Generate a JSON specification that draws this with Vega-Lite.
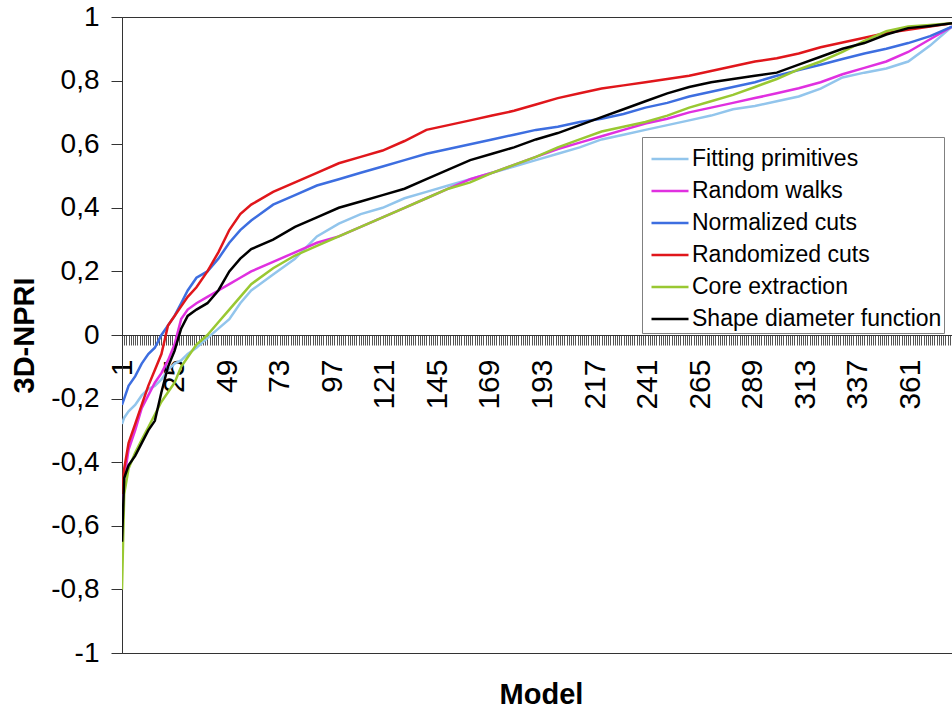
{
  "$schema": "https://vega.github.io/schema/vega-lite/v6.json",
  "width": 830,
  "height": 636,
  "autosize": "none",
  "padding": {"left": 122, "top": 17, "right": 0, "bottom": 60},
  "background": "white",
  "config": {
    "view": {"stroke": "#333333", "strokeWidth": 1},
    "font": "Liberation Sans"
  },
  "data": {
    "values": [
      {"m":1,"FP":-0.28,"RW":-0.58,"NC":-0.22,"RC":-0.5,"CE":-0.8,"SDF":-0.65},
      {"m":2,"FP":-0.26,"RW":-0.45,"NC":-0.2,"RC":-0.42,"CE":-0.5,"SDF":-0.45},
      {"m":4,"FP":-0.24,"RW":-0.36,"NC":-0.16,"RC":-0.34,"CE":-0.42,"SDF":-0.41},
      {"m":7,"FP":-0.22,"RW":-0.3,"NC":-0.13,"RC":-0.28,"CE":-0.37,"SDF":-0.38},
      {"m":10,"FP":-0.19,"RW":-0.23,"NC":-0.09,"RC":-0.22,"CE":-0.33,"SDF":-0.34},
      {"m":13,"FP":-0.17,"RW":-0.19,"NC":-0.06,"RC":-0.16,"CE":-0.29,"SDF":-0.3},
      {"m":16,"FP":-0.16,"RW":-0.15,"NC":-0.04,"RC":-0.11,"CE":-0.25,"SDF":-0.27},
      {"m":19,"FP":-0.14,"RW":-0.12,"NC":0.0,"RC":-0.06,"CE":-0.21,"SDF":-0.18},
      {"m":22,"FP":-0.11,"RW":-0.08,"NC":0.03,"RC":0.03,"CE":-0.18,"SDF":-0.1},
      {"m":25,"FP":-0.09,"RW":-0.03,"NC":0.06,"RC":0.06,"CE":-0.15,"SDF":-0.05},
      {"m":28,"FP":-0.08,"RW":0.05,"NC":0.1,"RC":0.09,"CE":-0.1,"SDF":0.02},
      {"m":31,"FP":-0.06,"RW":0.08,"NC":0.14,"RC":0.12,"CE":-0.07,"SDF":0.06},
      {"m":35,"FP":-0.04,"RW":0.1,"NC":0.18,"RC":0.15,"CE":-0.03,"SDF":0.08},
      {"m":40,"FP":-0.01,"RW":0.12,"NC":0.2,"RC":0.2,"CE":0.0,"SDF":0.1},
      {"m":45,"FP":0.02,"RW":0.14,"NC":0.24,"RC":0.26,"CE":0.04,"SDF":0.14},
      {"m":50,"FP":0.05,"RW":0.16,"NC":0.29,"RC":0.33,"CE":0.08,"SDF":0.2},
      {"m":55,"FP":0.1,"RW":0.18,"NC":0.33,"RC":0.38,"CE":0.12,"SDF":0.24},
      {"m":60,"FP":0.14,"RW":0.2,"NC":0.36,"RC":0.41,"CE":0.16,"SDF":0.27},
      {"m":70,"FP":0.19,"RW":0.23,"NC":0.41,"RC":0.45,"CE":0.21,"SDF":0.3},
      {"m":80,"FP":0.24,"RW":0.26,"NC":0.44,"RC":0.48,"CE":0.25,"SDF":0.34},
      {"m":90,"FP":0.31,"RW":0.29,"NC":0.47,"RC":0.51,"CE":0.28,"SDF":0.37},
      {"m":100,"FP":0.35,"RW":0.31,"NC":0.49,"RC":0.54,"CE":0.31,"SDF":0.4},
      {"m":110,"FP":0.38,"RW":0.34,"NC":0.51,"RC":0.56,"CE":0.34,"SDF":0.42},
      {"m":120,"FP":0.4,"RW":0.37,"NC":0.53,"RC":0.58,"CE":0.37,"SDF":0.44},
      {"m":130,"FP":0.43,"RW":0.4,"NC":0.55,"RC":0.61,"CE":0.4,"SDF":0.46},
      {"m":140,"FP":0.45,"RW":0.43,"NC":0.57,"RC":0.645,"CE":0.43,"SDF":0.49},
      {"m":150,"FP":0.47,"RW":0.46,"NC":0.585,"RC":0.66,"CE":0.46,"SDF":0.52},
      {"m":160,"FP":0.49,"RW":0.49,"NC":0.6,"RC":0.675,"CE":0.48,"SDF":0.55},
      {"m":170,"FP":0.51,"RW":0.51,"NC":0.615,"RC":0.69,"CE":0.51,"SDF":0.57},
      {"m":180,"FP":0.53,"RW":0.535,"NC":0.63,"RC":0.705,"CE":0.535,"SDF":0.59},
      {"m":190,"FP":0.55,"RW":0.56,"NC":0.645,"RC":0.725,"CE":0.56,"SDF":0.615},
      {"m":200,"FP":0.57,"RW":0.585,"NC":0.655,"RC":0.745,"CE":0.59,"SDF":0.635},
      {"m":210,"FP":0.59,"RW":0.605,"NC":0.67,"RC":0.76,"CE":0.615,"SDF":0.66},
      {"m":220,"FP":0.615,"RW":0.625,"NC":0.68,"RC":0.775,"CE":0.64,"SDF":0.685},
      {"m":230,"FP":0.63,"RW":0.645,"NC":0.695,"RC":0.785,"CE":0.655,"SDF":0.71},
      {"m":240,"FP":0.645,"RW":0.665,"NC":0.715,"RC":0.795,"CE":0.67,"SDF":0.735},
      {"m":250,"FP":0.66,"RW":0.68,"NC":0.73,"RC":0.805,"CE":0.69,"SDF":0.76},
      {"m":260,"FP":0.675,"RW":0.7,"NC":0.75,"RC":0.815,"CE":0.715,"SDF":0.78},
      {"m":270,"FP":0.69,"RW":0.715,"NC":0.765,"RC":0.83,"CE":0.735,"SDF":0.795},
      {"m":280,"FP":0.71,"RW":0.73,"NC":0.78,"RC":0.845,"CE":0.755,"SDF":0.805},
      {"m":290,"FP":0.72,"RW":0.745,"NC":0.795,"RC":0.86,"CE":0.78,"SDF":0.815},
      {"m":300,"FP":0.735,"RW":0.76,"NC":0.815,"RC":0.87,"CE":0.805,"SDF":0.825},
      {"m":310,"FP":0.75,"RW":0.776,"NC":0.833,"RC":0.885,"CE":0.835,"SDF":0.85},
      {"m":320,"FP":0.775,"RW":0.795,"NC":0.85,"RC":0.905,"CE":0.86,"SDF":0.875},
      {"m":330,"FP":0.81,"RW":0.82,"NC":0.868,"RC":0.92,"CE":0.89,"SDF":0.9},
      {"m":340,"FP":0.825,"RW":0.84,"NC":0.885,"RC":0.935,"CE":0.925,"SDF":0.918},
      {"m":350,"FP":0.838,"RW":0.86,"NC":0.9,"RC":0.95,"CE":0.955,"SDF":0.945},
      {"m":360,"FP":0.86,"RW":0.89,"NC":0.918,"RC":0.96,"CE":0.97,"SDF":0.965},
      {"m":370,"FP":0.91,"RW":0.93,"NC":0.94,"RC":0.97,"CE":0.975,"SDF":0.972},
      {"m":380,"FP":0.97,"RW":0.97,"NC":0.97,"RC":0.98,"CE":0.98,"SDF":0.98}
    ]
  },
  "transform": [
    {"fold": ["FP", "RW", "NC", "RC", "CE", "SDF"], "as": ["method", "value"]}
  ],
  "mark": {"type": "line", "strokeWidth": 2.5, "clip": true},
  "encoding": {
    "x": {
      "field": "m",
      "type": "quantitative",
      "scale": {"domain": [1, 380], "nice": false, "zero": false},
      "axis": {
        "title": "Model",
        "titleFont": "Liberation Sans",
        "titleFontSize": 29,
        "titleFontWeight": "bold",
        "titleColor": "#000000",
        "titleX": 419,
        "titleY": 368,
        "titleBaseline": "alphabetic",
        "titleAnchor": null,
        "offset": -318,
        "tickCount": 380,
        "labelExpr": "(datum.value - 1) % 24 === 0 ? datum.label : ''",
        "labelOverlap": false,
        "labelAngle": -90,
        "labelAlign": "right",
        "labelBaseline": "middle",
        "labelPadding": 14,
        "labelFont": "Liberation Sans",
        "labelFontSize": 30,
        "labelColor": "#000000",
        "labelFlush": false,
        "labelBound": false,
        "tickSize": 10,
        "tickColor": "#555555",
        "tickWidth": 1,
        "domainColor": "#333333",
        "grid": false
      }
    },
    "y": {
      "field": "value",
      "type": "quantitative",
      "scale": {"domain": [-1, 1], "nice": false, "zero": false},
      "axis": {
        "title": "3D-NPRI",
        "titleFont": "Liberation Sans",
        "titleFontSize": 29,
        "titleFontWeight": "bold",
        "titleColor": "#000000",
        "titleAngle": -90,
        "titleX": -98,
        "titleY": 318,
        "titleAlign": "center",
        "titleBaseline": "middle",
        "values": [-1, -0.8, -0.6, -0.4, -0.2, 0, 0.2, 0.4, 0.6, 0.8, 1],
        "labelExpr": "replace(replace(format(datum.value, '.1~f'), '.', ','), '\u2212', '-')",
        "labelFont": "Liberation Sans",
        "labelFontSize": 28,
        "labelColor": "#000000",
        "labelPadding": 12,
        "labelFlush": false,
        "labelOverlap": false,
        "tickSize": 11,
        "tickColor": "#333333",
        "domainColor": "#333333",
        "grid": false
      }
    },
    "color": {
      "field": "method",
      "type": "nominal",
      "scale": {
        "domain": ["FP", "RW", "NC", "RC", "CE", "SDF"],
        "range": ["#92C5EC", "#E030E0", "#3D6EE0", "#E0161B", "#99C832", "#000000"]
      },
      "legend": {
        "title": null,
        "orient": "none",
        "legendX": 520,
        "legendY": 120,
        "direction": "vertical",
        "fillColor": "#ffffff",
        "strokeColor": "#808080",
        "padding": 2,
        "symbolType": "stroke",
        "symbolSize": 1369,
        "symbolOffset": 6,
        "symbolStrokeWidth": 2.5,
        "labelFont": "Liberation Sans",
        "labelFontSize": 23,
        "labelColor": "#000000",
        "labelOffset": 2,
        "labelLimit": 400,
        "rowPadding": -0.3,
        "labelExpr": "datum.value === 'FP' ? 'Fitting primitives' : datum.value === 'RW' ? 'Random walks' : datum.value === 'NC' ? 'Normalized cuts' : datum.value === 'RC' ? 'Randomized cuts' : datum.value === 'CE' ? 'Core extraction' : 'Shape diameter function'"
      }
    }
  }
}
